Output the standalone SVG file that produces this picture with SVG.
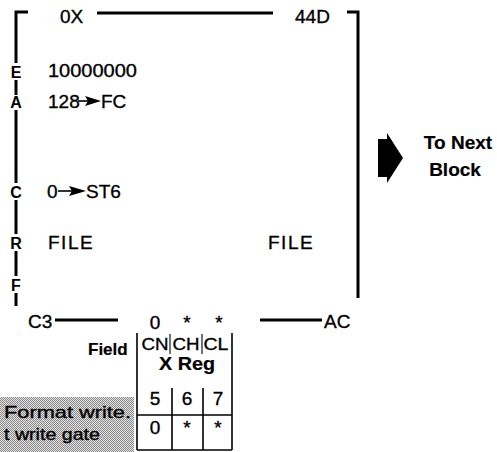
<svg xmlns="http://www.w3.org/2000/svg" width="497" height="452" viewBox="0 0 497 452">
<style>
text{font-family:"Liberation Sans",Arial,Helvetica,sans-serif;fill:#000;stroke:#000;stroke-width:0.35}
.t{font-size:19px}
.s{font-size:17px}
.b{font-weight:bold;stroke-width:0.2}
.side{font-size:16px;font-weight:bold;text-anchor:middle;stroke-width:0}
.m{text-anchor:middle}
.ln{stroke:#000;stroke-width:3;fill:none}
.th{stroke:#000;stroke-width:1.6;fill:none}
.tn{stroke:#000;stroke-width:1.1;fill:none}
</style>
<defs>
<pattern id="stip" width="2" height="2" patternUnits="userSpaceOnUse">
<rect width="2" height="2" fill="#e2e2e2"/>
<rect width="1" height="1" fill="#8a8a8a"/>
<rect x="1" y="1" width="1" height="1" fill="#8a8a8a"/>
</pattern>
</defs>

<g id="connectors">
<path class="ln" d="M28,12 H16 V63 M16,80 V95 M16,110 V183 M16,200 V234 M16,251 V276 M16,293 V306"/>
<path class="ln" d="M97,13 H273"/>
<path class="ln" d="M347,12 H358 V298"/>
<path class="ln" d="M55,320 H118"/>
<path class="ln" d="M260,320 H322"/>
</g>

<g id="frame-labels">
<text class="t" x="60" y="23">0X</text>
<text class="t" x="295" y="23">44D</text>
<text class="t" x="28" y="328">C3</text>
<text class="t" x="324" y="328">AC</text>
</g>

<g id="side-letters">
<text class="side" x="16" y="78">E</text>
<text class="side" x="16" y="108">A</text>
<text class="side" x="16" y="198">C</text>
<text class="side" x="16" y="249">R</text>
<text class="side" x="16" y="291">F</text>
</g>

<g id="block-contents">
<text class="t" x="48" y="77" textLength="89" lengthAdjust="spacingAndGlyphs">10000000</text>
<text class="t" x="48" y="108">128</text>
<path class="th" d="M78,101 H88" stroke-width="2"/>
<polygon points="85,96 101,101 85,106 88,101" fill="#000"/>
<text class="t" x="101" y="108">FC</text>
<text class="t" x="47" y="198">0</text>
<path class="th" d="M58,191 H72" stroke-width="2"/>
<polygon points="69,186 86,191 69,196 72,191" fill="#000"/>
<text class="t" x="86" y="198">ST6</text>
<text class="t" x="48" y="249" letter-spacing="1.5">FILE</text>
<text class="t" x="268" y="249" letter-spacing="1.5">FILE</text>
</g>

<g id="next-block">
<polygon points="378,139 387,139 387,133 403,158 387,183 387,177 378,177" fill="#000"/>
<text class="b m" font-size="19" x="458" y="149">To Next</text>
<text class="b m" font-size="19" x="455" y="176">Block</text>
</g>

<g id="x-reg">
<text class="t m" x="155" y="329">0</text>
<text class="t m" x="187" y="329">*</text>
<text class="t m" x="219" y="329">*</text>
<text class="s b" x="88" y="355">Field</text>
<path class="th" d="M137,333 V450 M232,333 V450 M137,415 H232 M137,450 H232"/>
<path class="tn" d="M170,334 V354 M202,334 V354"/>
<path class="th" d="M172,388 V450 M203,388 V450"/>
<text class="s m" x="155" y="350" textLength="27" lengthAdjust="spacingAndGlyphs">CN</text>
<text class="s m" x="186" y="350" textLength="27" lengthAdjust="spacingAndGlyphs">CH</text>
<text class="s m" x="216" y="350" textLength="25" lengthAdjust="spacingAndGlyphs">CL</text>
<text class="b m" font-size="18" x="187" y="370" textLength="56" lengthAdjust="spacingAndGlyphs">X Reg</text>
<text class="t m" x="155" y="405">5</text>
<text class="t m" x="187" y="405">6</text>
<text class="t m" x="218" y="405">7</text>
<text class="t m" x="155" y="434">0</text>
<text class="t m" x="187" y="434">*</text>
<text class="t m" x="218" y="434">*</text>
</g>

<g id="note">
<rect x="0" y="397" width="134" height="55" fill="url(#stip)"/>
<text class="s" x="4" y="418" textLength="127" lengthAdjust="spacingAndGlyphs">Format write.</text>
<text class="s" x="4" y="440" textLength="96" lengthAdjust="spacingAndGlyphs">t write gate</text>
</g>
</svg>
